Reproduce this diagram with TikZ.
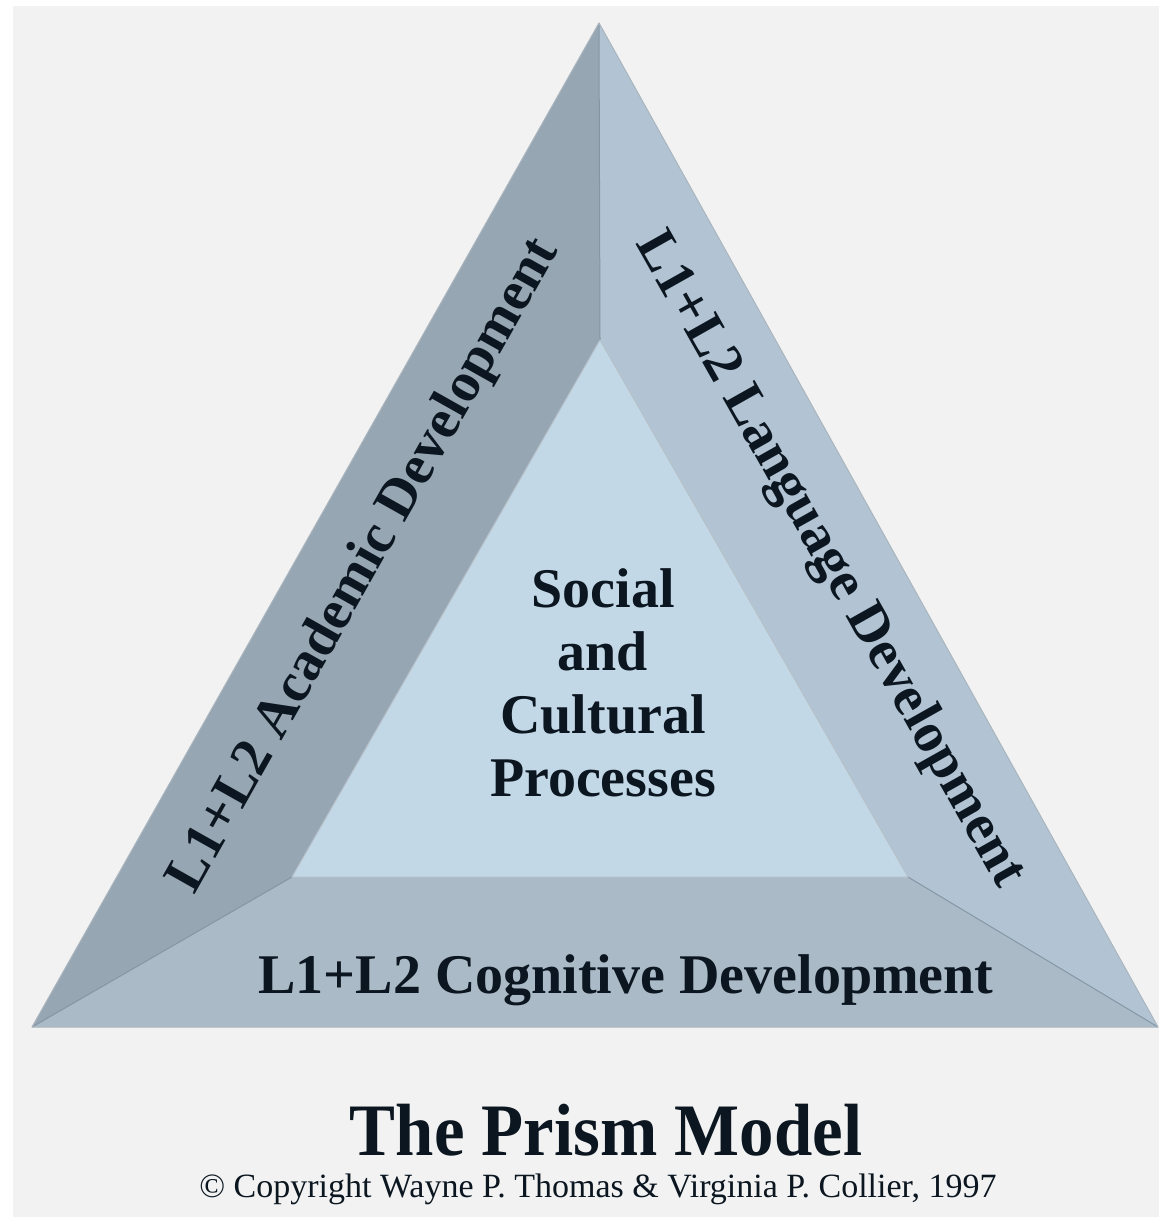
\documentclass[tikz,border=0pt]{standalone}
\usepackage{fontspec}
\setmainfont{Liberation Serif}
\definecolor{bgc}{HTML}{F2F2F2}
\definecolor{acad}{HTML}{97A6B3}
\definecolor{lang}{HTML}{B2C4D3}
\definecolor{cogn}{HTML}{ABBAC7}
\definecolor{core}{HTML}{C3D8E7}
\definecolor{edge}{HTML}{8595A3}
\definecolor{ink}{HTML}{0B1620}
\tikzset{
  facelbl/.style={text=ink,font=\fontsize{56}{63}\selectfont\bfseries,inner sep=0pt},
  faceline/.style={edge,line width=1pt,line join=round}
}
\begin{document}
\begin{tikzpicture}[x=1pt,y=-1pt]
        \useasboundingbox (0,0) rectangle (1159,1217);
        \fill[white] (0,0) rectangle (1159,1217);
        \fill[bgc] (13,6) rectangle (1159,1217);
        % outer and inner corners
        \coordinate (top) at (599,23);
        \coordinate (bl) at (32,1027);
        \coordinate (br) at (1158,1027);
        \coordinate (itop) at (600,340);
        \coordinate (ibl) at (292,877);
        \coordinate (ibr) at (908,877);
        % faces
        \fill[acad] (top) -- (itop) -- (ibl) -- (bl) -- cycle;
        \fill[lang] (top) -- (br) -- (ibr) -- (itop) -- cycle;
        \fill[cogn] (bl) -- (ibl) -- (ibr) -- (br) -- cycle;
        \fill[core] (itop) -- (ibl) -- (ibr) -- cycle;
        \draw[faceline] (top) -- (itop) (ibl) -- (bl) (ibr) -- (br);
        \draw[faceline,edge!60] (itop) -- (ibl) -- (ibr) -- cycle;
        \draw[faceline,edge!70] (top) -- (bl) -- (br) -- cycle;
        % labels
        \node[facelbl,rotate=60.6] (acadlbl) at (365,566) {L1+L2 Academic Development};
        \node[facelbl,rotate=-60.6] (langlbl) at (829,560) {L1+L2 Language Development};
        \node[facelbl] (cognlbl) at (626,980) {L1+L2 Cognitive Development};
        \node[facelbl,align=center] (corelbl) at (603,683) {Social\\and\\Cultural\\Processes};
        \node[text=ink,font=\fontsize{74}{80}\selectfont\bfseries,xscale=0.93,inner sep=0pt] (title) at (606,1130) {The Prism Model};
        \node[text=ink,font=\fontsize{34}{36}\selectfont,inner sep=0pt] (copy) at (598,1189) {© Copyright Wayne P. Thomas \& Virginia P. Collier, 1997};
      \end{tikzpicture}
\end{document}
